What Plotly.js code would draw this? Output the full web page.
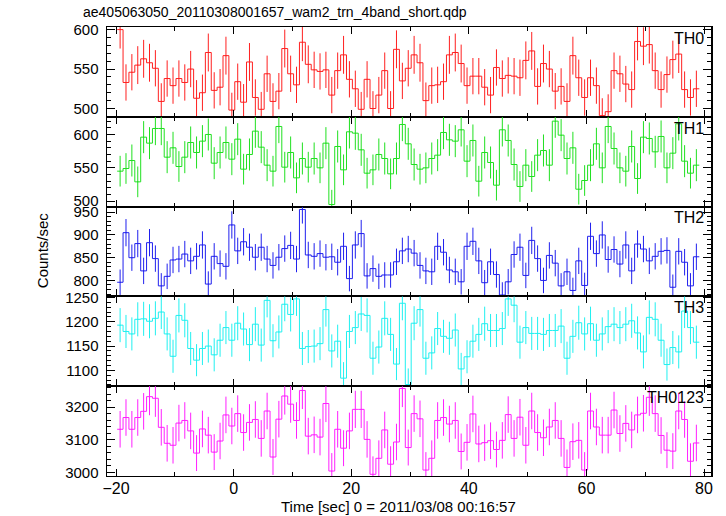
<!DOCTYPE html>
<html>
<head>
<meta charset="utf-8">
<script src="https://cdn.plot.ly/plotly-3.0.1.min.js"></script>
<style>html,body{margin:0;padding:0;background:#fff;}#chart{width:726px;height:516px;}</style>
</head>
<body>
<div id="chart"></div>
<script>
// Bin centres [sec], 0 = 2011/03/08 00:16:57
const time = [-19.3,-18.3,-17.3,-16.3,-15.3,-14.3,-13.3,-12.3,-11.3,-10.3,-9.3,-8.3,-7.3,-6.3,-5.3,-4.3,-3.3,-2.3,-1.3,-0.3,
0.7,1.7,2.7,3.7,4.7,5.7,6.7,7.7,8.7,9.7,10.7,11.7,12.7,13.7,14.7,15.7,16.7,17.7,18.7,19.7,
20.7,21.7,22.7,23.7,24.7,25.7,26.7,27.7,28.7,29.7,30.7,31.7,32.7,33.7,34.7,35.7,36.7,37.7,38.7,39.7,
40.7,41.7,42.7,43.7,44.7,45.7,46.7,47.7,48.7,49.7,50.7,51.7,52.7,53.7,54.7,55.7,56.7,57.7,58.7,59.7,
60.7,61.7,62.7,63.7,64.7,65.7,66.7,67.7,68.7,69.7,70.7,71.7,72.7,73.7,74.7,75.7,76.7,77.7,78.7];
const binWidth = 1.0;

const th0 = [600,533,546,555,563,558,551,509,538,529,538,533,550,513,520,571,523,527,567,498,
534,508,559,514,499,544,509,522,576,544,530,584,556,549,547,549,517,548,568,537,
525,499,537,500,517,548,500,575,535,551,568,558,510,529,530,534,568,571,557,529,
541,541,527,517,552,538,542,541,539,561,573,528,557,550,522,528,509,567,539,514,
539,529,491,496,548,544,531,524,585,579,581,548,524,543,562,569,524,514,525];
const th0Err = [24,23,23,24,24,24,23,23,23,23,23,23,23,23,23,24,23,23,24,22,
23,23,24,23,22,23,23,23,24,23,23,24,24,23,23,23,23,23,24,23,
23,22,23,22,23,23,22,24,23,23,24,24,23,23,23,23,24,24,24,23,
23,23,23,23,23,23,23,23,23,24,24,23,24,23,23,23,23,24,23,23,
23,23,22,22,23,23,23,23,24,24,24,23,23,23,24,24,23,23,23];

const th1 = [545,549,561,529,596,587,609,609,566,580,552,566,588,573,590,600,557,573,588,563,
593,548,570,605,581,554,545,612,551,573,535,564,551,564,550,587,495,582,547,604,
602,577,542,547,570,564,541,564,615,586,555,548,550,564,569,603,592,590,607,560,
591,530,573,558,524,607,591,555,522,554,537,569,576,554,620,599,564,580,518,531,
554,586,550,612,579,550,545,582,534,596,594,574,597,550,572,616,560,542,554];
const th1Err = [23,23,24,23,24,24,25,25,24,24,23,24,24,24,24,24,24,24,24,24,
24,23,24,25,24,24,23,25,23,24,23,24,23,24,23,24,22,24,23,25,
25,24,23,23,24,24,23,24,25,24,24,23,23,24,24,25,24,24,25,24,
24,23,24,24,23,25,24,24,23,24,23,24,24,24,25,24,24,24,23,23,
24,24,23,25,24,23,23,24,23,24,24,24,24,23,24,25,24,23,24];

const th2 = [796,905,850,881,821,883,848,788,809,845,847,858,843,853,878,792,853,837,831,922,
865,885,873,851,873,847,833,851,870,877,847,956,856,853,859,851,852,840,875,804,
878,903,810,826,809,812,812,841,865,869,860,833,821,819,875,862,823,819,797,875,
886,843,795,841,813,768,797,857,873,811,888,848,800,855,838,788,819,778,843,789,
897,859,900,846,868,836,878,821,880,869,843,853,864,866,785,864,840,788,852];
const th2Err = [28,30,29,30,29,30,29,28,28,29,29,29,29,29,30,28,29,29,29,30,
29,30,30,29,30,29,29,29,29,30,29,31,29,29,29,29,29,29,30,28,
30,30,28,29,28,28,28,29,29,29,29,29,29,29,30,29,29,29,28,30,
30,29,28,29,29,28,28,29,30,28,30,29,28,29,29,28,29,28,29,28,
30,29,30,29,29,29,30,29,30,29,29,29,29,29,28,29,29,28,29];

const th3 = [1193,1180,1175,1205,1206,1201,1207,1220,1175,1129,1213,1203,1145,1121,1145,1150,1132,1162,1188,1162,
1197,1185,1153,1195,1152,1244,1161,1179,1236,1215,1247,1145,1149,1150,1155,1225,1140,1160,1084,1180,
1188,1216,1213,1125,1148,1207,1174,1113,1238,1071,1197,1225,1125,1136,1186,1170,1166,1183,1103,1128,
1160,1174,1196,1182,1182,1186,1247,1234,1158,1188,1176,1176,1174,1182,1182,1191,1125,1170,1198,1175,
1196,1162,1175,1190,1195,1188,1195,1202,1177,1138,1209,1205,1162,1112,1147,1138,1222,1188,1158];
const th3Err = [35,34,34,35,35,35,35,35,34,34,35,35,34,33,34,34,34,34,34,34,
35,34,34,35,34,35,34,34,35,35,35,34,34,34,34,35,34,34,33,34,
34,35,35,34,34,35,34,33,35,33,35,35,34,34,34,34,34,34,33,34,
34,34,35,34,34,34,35,35,34,34,34,34,34,34,34,35,34,34,35,34,
35,34,34,34,35,34,35,35,34,34,35,35,34,33,34,34,35,34,34];

const th0123 = [3132,3168,3132,3168,3187,3232,3227,3138,3089,3083,3151,3159,3127,3059,3133,3114,3062,3096,3176,3142,
3180,3122,3153,3162,3104,3188,3047,3163,3234,3209,3159,3251,3111,3115,3108,3211,3004,3132,3074,3127,
3193,3193,3101,2994,3043,3130,3025,3093,3257,3076,3180,3164,3007,3043,3159,3168,3148,3159,3064,3092,
3179,3087,3091,3097,3070,3098,3177,3104,3169,3083,3188,3122,3106,3139,3159,3104,3015,3094,3098,3007,
3188,3139,3114,3114,3191,3119,3150,3130,3176,3181,3230,3180,3113,3068,3065,3188,3162,3034,3090];
const th0123Err = [56,56,56,56,56,57,57,56,56,56,56,56,56,55,56,56,55,56,56,56,
56,56,56,56,56,56,55,56,57,57,56,57,56,56,56,57,55,56,55,56,
57,57,56,55,55,56,55,56,57,55,56,56,55,55,56,56,56,56,55,56,
56,56,56,56,55,56,56,56,56,56,56,56,56,56,56,56,55,56,56,55,
56,56,56,56,56,56,56,56,56,56,57,56,56,55,55,56,56,55,56];

const bandNames = ["TH0","TH1","TH2","TH3","TH0123"];
const bandColors = ["#ff2020","#20e020","#2020ee","#20f0f0","#ff20ff"];
const yTick0 = [500,500,800,1100,3000];
const yMajor = [50,50,50,50,100];
const yMinor = [10,10,10,10,20];
const yRanges = [[489.5,603.3],[491.9,626.5],[764.9,962.3],[1067.5,1252.1],[2988.8,3264]];
const xRange = [-21.53,81.19];

const series = [th0, th1, th2, th3, th0123];
const errors = [th0Err, th1Err, th2Err, th3Err, th0123Err];

const FONT = '"Liberation Sans", Arial, Helvetica, sans-serif';
const traces = [];
const layout = {
  width: 726, height: 516,
  margin: {l: 107, r: 15, t: 27, b: 40},
  paper_bgcolor: '#fff', plot_bgcolor: '#fff',
  showlegend: false,
  font: {family: FONT, size: 16, color: '#000'},
  annotations: []
};

const n = bandNames.length;
for (let k = 0; k < n; k++) {
  const sfx = k === 0 ? '' : String(k + 1);
  const xa = 'x' + sfx, ya = 'y' + sfx;
  const vals = series[k];
  // step outline over full bins
  const ex = time.map(t => t - binWidth / 2).concat([time[time.length - 1] + binWidth / 2]);
  const ey = vals.concat([vals[vals.length - 1]]);
  traces.push({
    type: 'scatter', mode: 'lines', x: ex, y: ey, xaxis: xa, yaxis: ya,
    line: {shape: 'hv', color: bandColors[k], width: 1}, hoverinfo: 'skip'
  });
  traces.push({
    type: 'scatter', mode: 'markers', x: time, y: vals, xaxis: xa, yaxis: ya,
    marker: {size: 1, color: bandColors[k]},
    error_y: {type: 'data', array: errors[k], visible: true, width: 0, thickness: 1, color: bandColors[k]}
  });
  const top = 1 - k / n, bot = 1 - (k + 1) / n;
  layout['yaxis' + sfx] = {
    domain: [bot, top], range: yRanges[k], anchor: xa,
    tick0: yTick0[k], dtick: yMajor[k],
    ticks: 'inside', ticklen: 8, tickwidth: 1, tickcolor: '#000',
    minor: {dtick: yMinor[k], tick0: yTick0[k], ticks: 'inside', ticklen: 4, tickwidth: 1, tickcolor: '#000'},
    showline: true, linecolor: '#000', linewidth: 1.5, mirror: 'allticks',
    showgrid: false, zeroline: false,
    tickfont: {family: FONT, size: 15, color: '#000'},
    ticklabelstandoff: 4
  };
  layout['xaxis' + sfx] = {
    range: xRange, anchor: ya, matches: k === 0 ? undefined : 'x',
    tick0: 0, dtick: 20,
    ticks: 'inside', ticklen: 7, tickwidth: 1, tickcolor: '#000',
    minor: {dtick: 10, tick0: 0, ticks: 'inside', ticklen: 4, tickwidth: 1, tickcolor: '#000'},
    showline: true, linecolor: '#000', linewidth: 1, mirror: 'allticks',
    showgrid: false, zeroline: false,
    showticklabels: k === n - 1,
    ticklabelstandoff: -2,
    tickfont: {family: FONT, size: 16, color: '#000'}
  };
  layout.annotations.push({
    xref: 'paper', yref: 'paper', x: 0.991, y: top - 0.002,
    xanchor: 'right', yanchor: 'top', showarrow: false,
    text: bandNames[k], font: {family: FONT, size: 16, color: '#000'}
  });
}

layout.annotations.push({
  xref: 'paper', yref: 'paper', x: -0.043, y: 1.033, xanchor: 'left', yanchor: 'middle',
  showarrow: false, text: 'ae405063050_20110308001657_wam2_trn_4band_short.qdp',
  font: {family: FONT, size: 14, color: '#000'}
});
layout.annotations.push({
  xref: 'paper', yref: 'paper', x: -0.1076, y: 0.503, xanchor: 'center', yanchor: 'middle',
  showarrow: false, textangle: -90, text: 'Counts/sec',
  font: {family: FONT, size: 15, color: '#000'}
});
layout.annotations.push({
  xref: 'paper', yref: 'paper', x: 0.4834, y: -0.069, xanchor: 'center', yanchor: 'middle',
  showarrow: false, text: 'Time [sec] 0 = 2011/03/08 00:16:57',
  font: {family: FONT, size: 15, color: '#000'}
});

Plotly.newPlot('chart', traces, layout, {staticPlot: true, displayModeBar: false});
</script>
</body>
</html>
